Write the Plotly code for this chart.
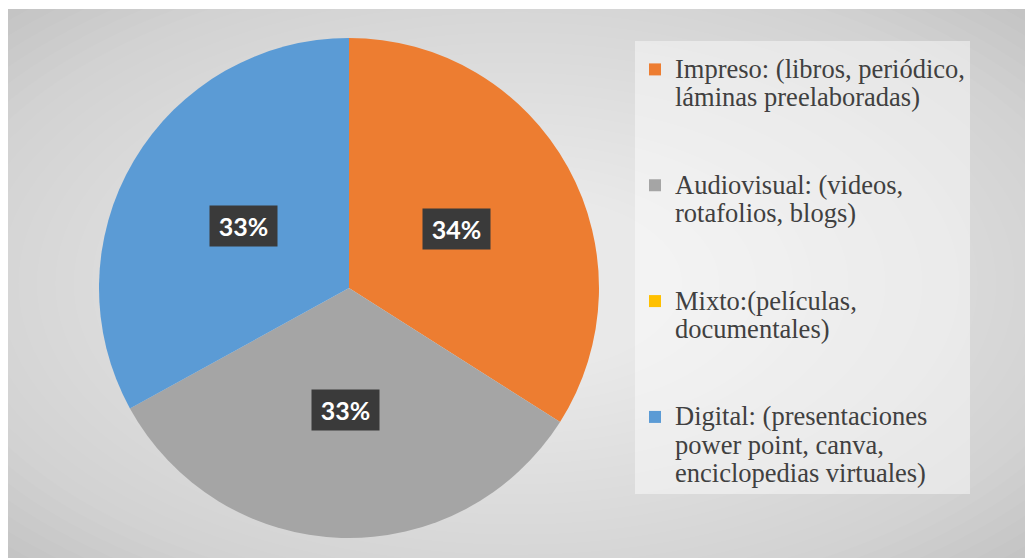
import math
import plotly.graph_objects as go

# ─────────────────────────────────────────────────────────────
# DATOS
# ─────────────────────────────────────────────────────────────
categorias = [
    "Impreso: (libros, periódico,<br>láminas preelaboradas)",
    "Audiovisual: (videos,<br>rotafolios, blogs)",
    "Mixto:(películas,<br>documentales)",
    "Digital: (presentaciones<br>power point, canva,<br>enciclopedias virtuales)",
]
porcentajes = [34, 33, 0, 33]
colores = ["#ED7D31", "#A5A5A5", "#FFC000", "#5B9BD5"]

# ─────────────────────────────────────────────────────────────
# GEOMETRÍA (píxeles de pantalla -> fracción de papel)
# ─────────────────────────────────────────────────────────────
W, H = 1025, 558


def px(sx):
    return sx / W


def py(sy):
    return 1 - sy / H


PIE_X = (px(99), px(599))
PIE_Y = (py(538), py(38))
cx = sum(PIE_X) / 2
cy = sum(PIE_Y) / 2
R = 250

# separación vertical en la leyenda (líneas vacías al final)
nombres = []
for i, c in enumerate(categorias):
    n_lin = c.count("<br>") + 1
    relleno = "<br> " * (4 - n_lin) if i < len(categorias) - 1 else ""
    texto = "<br>".join(f'<span style="font-size:26.5px">{t}</span>' for t in c.split("<br>"))
    nombres.append(texto + relleno)

fig = go.Figure()
fig.add_trace(go.Pie(
    labels=nombres,
    values=porcentajes,
    marker=dict(colors=colores, line=dict(width=0)),
    sort=False,
    direction="clockwise",
    rotation=0,
    textinfo="none",
    hoverinfo="percent",
    domain=dict(x=list(PIE_X), y=list(PIE_Y)),
))

# etiquetas de datos en recuadro oscuro
total = sum(porcentajes)
acum = 0
anotaciones = []
for v in porcentajes:
    ang = (acum + v / 2) / total * 2 * math.pi
    acum += v
    if v == 0:
        continue
    r = 0.49 * R
    anotaciones.append(dict(
        x=cx + math.sin(ang) * r / W,
        y=cy + math.cos(ang) * r / H,
        xref="paper", yref="paper",
        xanchor="center", yanchor="middle",
        text=f"<b>{round(v / total * 100)}%</b>",
        showarrow=False,
        font=dict(family="Lato, Open Sans, sans-serif", size=25, color="white"),
        bgcolor="#3a3a3a",
        width=65, height=38,
    ))

# fondo con degradado radial aproximado
formas = [dict(
    type="rect", xref="paper", yref="paper",
    x0=px(8), x1=1, y0=0, y1=py(9),
    fillcolor="#c0c0c0", line=dict(width=0), layer="below",
)]
N = 40
for k in range(N):
    f = 1 - k / N
    mx = (px(8) + 1) / 2
    my = py(9) / 2
    formas.append(dict(
        type="circle", xref="paper", yref="paper",
        x0=mx - 0.72 * f, x1=mx + 0.72 * f,
        y0=my - 0.72 * f, y1=my + 0.72 * f,
        fillcolor="white", opacity=0.045, line=dict(width=0), layer="below",
    ))

fig.update_layout(
    width=W, height=H,
    margin=dict(l=0, r=0, t=0, b=0),
    paper_bgcolor="white",
    shapes=formas,
    annotations=anotaciones,
    showlegend=True,
    legend=dict(
        x=px(635), y=py(41),
        xanchor="left", yanchor="top",
        valign="top",
        bgcolor="rgba(255,255,255,0.45)",
        font=dict(family="Liberation Serif, Times New Roman, serif", size=21.7, color="#404040"),
        itemwidth=30,
        title=dict(text=" ", font=dict(size=6)),
    ),
)

fig.write_html(
    "out.html",
    config={"displayModeBar": False},
    post_script="document.body.style.margin='0';document.documentElement.style.overflow='hidden';",
)
